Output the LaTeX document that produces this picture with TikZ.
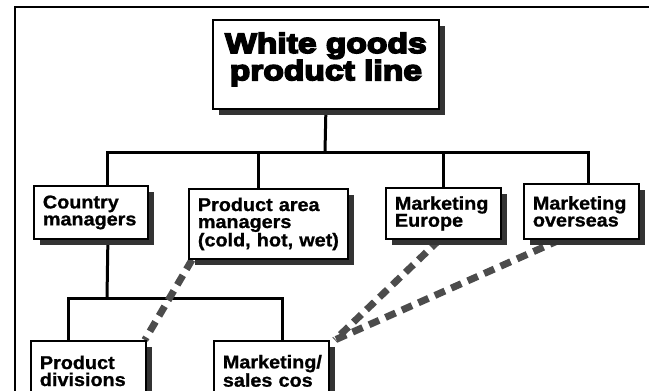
\documentclass[tikz,border=0pt]{standalone}
\usepackage{fontspec}
\setmainfont{Liberation Sans}
\newfontfamily\heavyfont{Liberation Sans Bold}[FakeBold=6,FakeStretch=1.2]
\newfontfamily\boxfont{Liberation Sans Bold}[FakeBold=1,FakeStretch=1.07]
\usetikzlibrary{shadows,backgrounds}

\tikzset{
  orgbox/.style={draw, line width=1.8pt, fill=white, anchor=north west, align=left, inner xsep=9pt,
    font=\boxfont\fontsize{18.5}{17}\selectfont,
    drop shadow={shadow xshift=6pt, shadow yshift=-6pt, fill=black!80, opacity=1}},
  titlebox/.style={orgbox, align=center, inner xsep=4pt, font=\heavyfont\fontsize{28}{26}\selectfont},
  tree/.style={line width=3pt},
  link/.style={line width=7pt, black!70, dash pattern=on 11pt off 7pt},
  frame/.style={line width=2pt}
}

\begin{document}
\begin{tikzpicture}[x=1pt, y=-1pt]
	  \clip (0,0) rectangle (649,391);
	  \draw[frame] (15,391) -- (15,7) -- (649,7);
	  % boxes
	  \node[titlebox, minimum width=226pt, minimum height=89pt] (wgpl) at (212,19) {White goods\\product line\\[-10pt]\mbox{}};
	  \node[orgbox, text width=96pt, minimum height=53pt] (cm) at (33,185) {Country\\managers};
	  \node[orgbox, text width=141pt, minimum height=70pt] (pam) at (188,188) {Product area\\managers\\(cold, hot, wet)};
	  \node[orgbox, text width=97pt, minimum height=51pt] (meu) at (385,187) {Marketing\\Europe};
	  \node[orgbox, text width=97pt, minimum height=55pt] (mos) at (523,183) {Marketing\\overseas};
	  \node[orgbox, text width=97pt, minimum height=60pt] (pd) at (30,340) {Product\\divisions};
	  \node[orgbox, text width=97pt, minimum height=60pt] (msc) at (213,340) {Marketing/\\sales cos};
	  \coordinate (bus) at (325,152);
	  \coordinate (lowbus) at (107,298);
	  \begin{scope}[on background layer]
	    \draw[tree] (wgpl.south) -- (bus);
	    \draw[tree] ([xshift=17pt]cm.north) |- (bus) -| ([xshift=7pt]mos.north);
	    \draw[tree] ([xshift=-10pt]pam.north) -- ([xshift=-10pt]pam.north |- bus);
	    \draw[tree] (meu.north) -- (meu.north |- bus);
	    \draw[tree] ([xshift=17pt]cm.south) -- (lowbus);
	    \draw[tree] ([xshift=-20pt]pd.north) |- (lowbus) -| ([xshift=11pt]msc.north);
	    % stippled links
	    \draw[link] ([xshift=4pt]pam.south west) -- ([xshift=-2pt]pd.north east);
	    \draw[link] ([xshift=-4pt]meu.south) -- ([xshift=5pt]msc.north east);
	    \draw[link] ([xshift=37pt]mos.south west) -- ([xshift=5pt]msc.north east);
	  \end{scope}
	\end{tikzpicture}
\end{document}
